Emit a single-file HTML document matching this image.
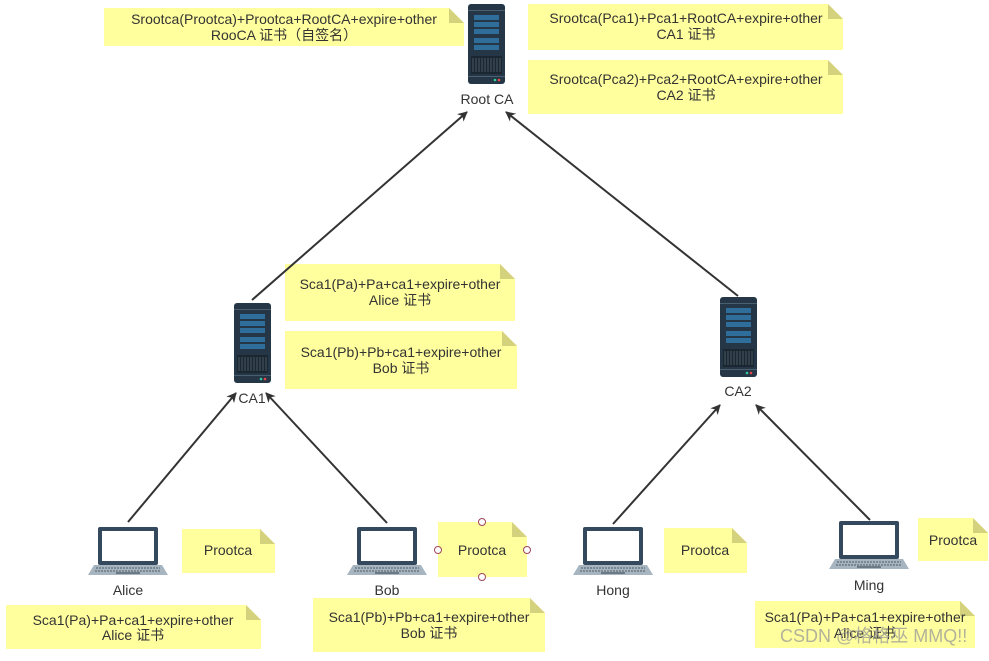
<!DOCTYPE html>
<html><head><meta charset="utf-8"><style>
body{margin:0;background:#fff}
text{font-family:"Liberation Sans","Noto Sans CJK SC",sans-serif;font-size:14px;fill:#333}
</style></head><body>
<svg width="989" height="656" viewBox="0 0 989 656" xmlns="http://www.w3.org/2000/svg">
<defs>
<marker id="ah" markerWidth="10" markerHeight="10" refX="9" refY="5" orient="auto" markerUnits="userSpaceOnUse">
<path d="M0,0 L10,5 L0,10 L3,5 z" fill="#333"/></marker>
<g id="srv">
<rect x="0" y="0" width="37" height="80" rx="3" fill="#253746"/>
<rect x="0" y="6" width="37" height="1" fill="#4a5f70"/>
<rect x="6" y="11" width="25" height="5" fill="#2f6e9a"/><rect x="6" y="18" width="25" height="5" fill="#2f6e9a"/>
<rect x="6" y="25" width="25" height="5" fill="#2f6e9a"/><rect x="6" y="34" width="25" height="5" fill="#2f6e9a"/>
<rect x="6" y="41" width="25" height="5" fill="#2f6e9a"/>
<rect x="3" y="52" width="31" height="18" fill="#1a2630"/>
<path d="M5,54v14M8,54v14M11,54v14M14,54v14M17,54v14M20,54v14M23,54v14M26,54v14M29,54v14M32,54v14" stroke="#4a5a66" stroke-width="1"/>
<rect x="0" y="72" width="37" height="1" fill="#4a5f70"/>
<circle cx="27" cy="76" r="1.3" fill="#3c9"/><circle cx="31" cy="76" r="1.3" fill="#e44"/>
</g>
<g id="lap">
<rect x="10" y="0" width="60" height="38" rx="2" fill="#34495e"/>
<rect x="14" y="4" width="52" height="30" fill="#fff"/>
<path d="M0,48 L6,38 L74,38 L80,48 z" fill="#a7b5c0"/>
<path d="M8,41h64M7,44h66" stroke="#6c7a86" stroke-width="1.5" stroke-dasharray="2 1"/>
<rect x="28" y="45" width="24" height="2" fill="#6c7a86"/>
</g>
</defs>

<g fill="#ffff9e">
<path d="M104,8H449L464,23V46H104z"/>
<path d="M528,4H828L843,19V50H528z"/>
<path d="M528,60H828L843,75V114H528z"/>
<path d="M285,264H500L515,279V321H285z"/>
<path d="M285,331H502L517,346V389H285z"/>
<path d="M182,529H260L275,544V573H182z"/>
<path d="M438,522H512L527,537V577H438z"/>
<path d="M664,528H732L747,543V573H664z"/>
<path d="M918,518H973L988,533V561H918z"/>
<path d="M6,605H246L261,620V649H6z"/>
<path d="M313,598H530L545,613V652H313z"/>
<path d="M755,601H960L975,616V648H755z"/>
</g>
<g fill="#d5d27e">
<path d="M449,8L464,23H449z"/><path d="M828,4L843,19H828z"/><path d="M828,60L843,75H828z"/>
<path d="M500,264L515,279H500z"/><path d="M502,331L517,346H502z"/><path d="M260,529L275,544H260z"/>
<path d="M512,522L527,537H512z"/><path d="M732,528L747,543H732z"/><path d="M973,518L988,533H973z"/>
<path d="M246,605L261,620H246z"/><path d="M530,598L545,613H530z"/><path d="M960,601L975,616H960z"/>
</g>
<g text-anchor="middle">
<text x="284" y="24">Srootca(Prootca)+Prootca+RootCA+expire+other</text>
<text x="284" y="40">RooCA 证书（自签名）</text>
<text x="686" y="23">Srootca(Pca1)+Pca1+RootCA+expire+other</text>
<text x="686" y="39">CA1  证书</text>
<text x="686" y="84">Srootca(Pca2)+Pca2+RootCA+expire+other</text>
<text x="686" y="100">CA2  证书</text>
<text x="400" y="289">Sca1(Pa)+Pa+ca1+expire+other</text>
<text x="400" y="305">Alice 证书</text>
<text x="401" y="357">Sca1(Pb)+Pb+ca1+expire+other</text>
<text x="401" y="373">Bob 证书</text>
<text x="228" y="555">Prootca</text>
<text x="482" y="555">Prootca</text>
<text x="705" y="555">Prootca</text>
<text x="953" y="545">Prootca</text>
<text x="133" y="625">Sca1(Pa)+Pa+ca1+expire+other</text>
<text x="133" y="640">Alice 证书</text>
<text x="429" y="622">Sca1(Pb)+Pb+ca1+expire+other</text>
<text x="429" y="638">Bob 证书</text>
<text x="865" y="622">Sca1(Pa)+Pa+ca1+expire+other</text>
<text x="865" y="638">Alice 证书</text>
<text x="487" y="104">Root CA</text>
<text x="252" y="403">CA1</text>
<text x="738" y="396">CA2</text>
<text x="128" y="595">Alice</text>
<text x="387" y="595">Bob</text>
<text x="613" y="595">Hong</text>
<text x="869" y="590">Ming</text>
</g>
<g fill="#fff" stroke="#a0455a" stroke-width="1">
<circle cx="482" cy="522" r="3.5"/><circle cx="482" cy="577" r="3.5"/><circle cx="438" cy="550" r="3.5"/><circle cx="527" cy="550" r="3.5"/>
</g>

<use href="#srv" x="468" y="4"/>
<use href="#srv" x="234" y="303"/>
<use href="#srv" x="720" y="297"/>
<use href="#lap" x="88" y="527"/>
<use href="#lap" x="347" y="527"/>
<use href="#lap" x="573" y="527"/>
<use href="#lap" x="829" y="521"/>

<g stroke="#333" stroke-width="2" fill="none" marker-end="url(#ah)">
<line x1="252" y1="300" x2="467" y2="112"/>
<line x1="738" y1="296" x2="506" y2="112"/>
<line x1="128" y1="522" x2="236" y2="393"/>
<line x1="387" y1="523" x2="266" y2="393"/>
<line x1="613" y1="524" x2="720" y2="405"/>
<line x1="870" y1="520" x2="756" y2="405"/>
</g>
<text x="780" y="642" style="font-size:18px;fill:#999;opacity:0.75">CSDN @格格巫 MMQ!!</text>
</svg>
</body></html>
